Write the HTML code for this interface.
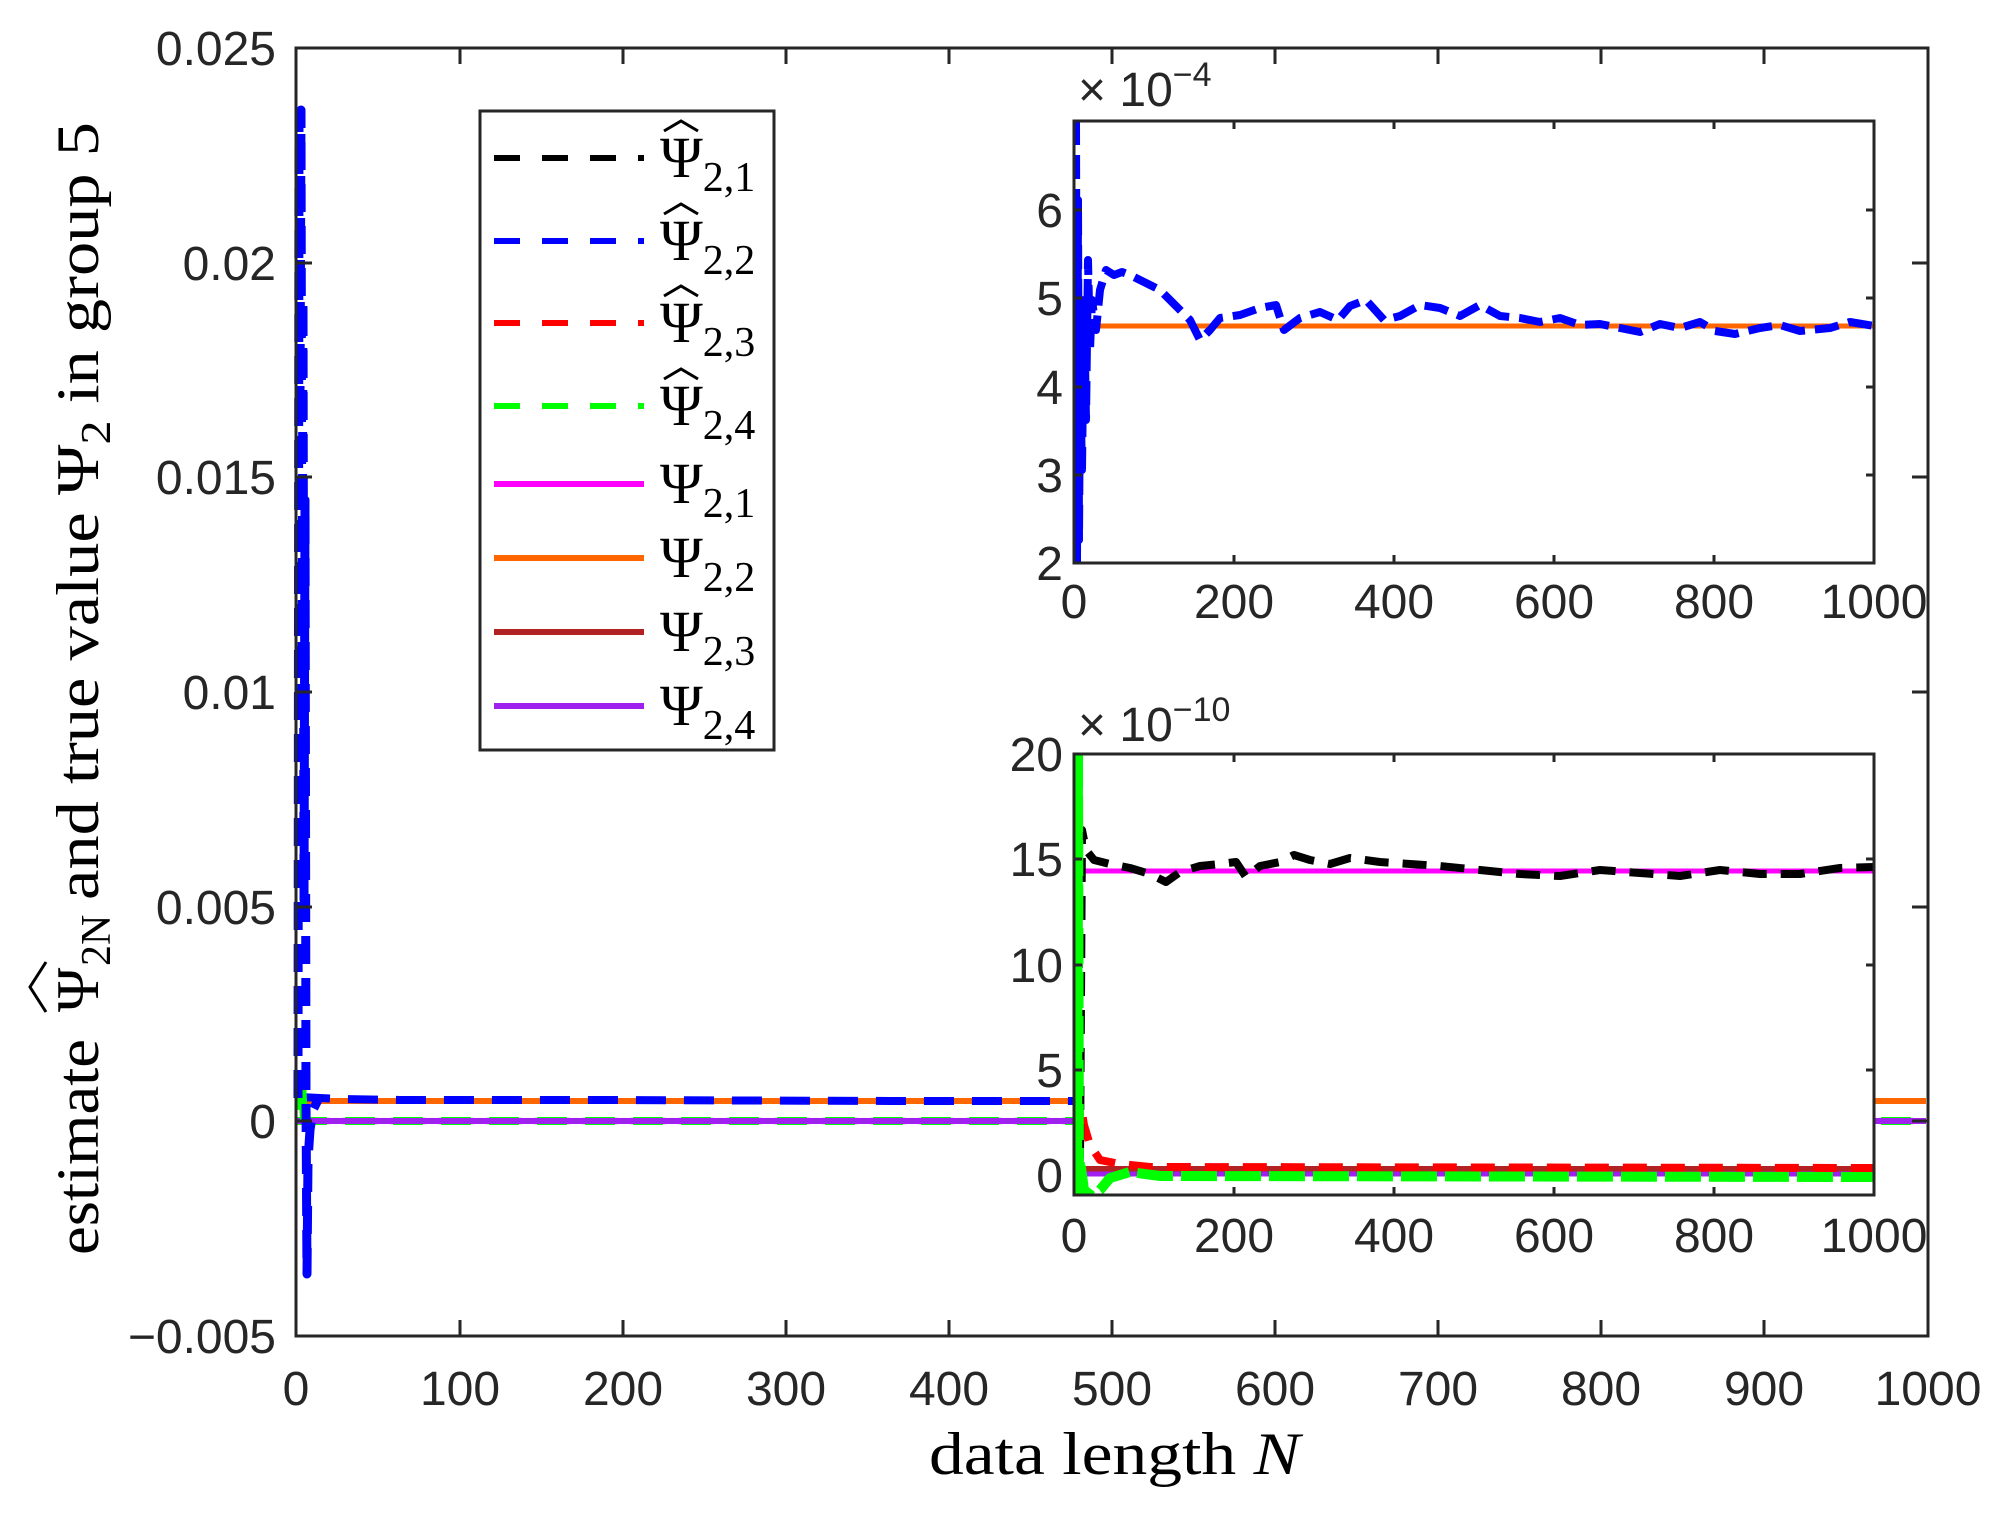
<!DOCTYPE html>
<html><head><meta charset="utf-8"><style>
body{margin:0;background:#fff}
svg{display:block}
.t{font-family:"Liberation Sans",sans-serif;font-size:48px;fill:#262626}
.s{font-family:"Liberation Serif","DejaVu Serif",serif;fill:#000}
</style></head><body>
<svg width="2011" height="1520" viewBox="0 0 2011 1520" xmlns="http://www.w3.org/2000/svg">
<rect width="2011" height="1520" fill="#fff"/>
<g fill="none" stroke-linejoin="round">
<line x1="297" y1="1101" x2="1926" y2="1101" stroke="#FF6600" stroke-width="6"/>
<polyline points="300,1097 340,1099 400,1100 600,1100 900,1101 1100,1101" stroke="#0000FF" stroke-width="8" stroke-dasharray="30,18"/>
<line x1="297" y1="1121" x2="1926" y2="1121" stroke="#00FF00" stroke-width="8" stroke-dasharray="30,18"/>
<line x1="297" y1="1121" x2="1926" y2="1121" stroke="#A020F0" stroke-width="6"/>
<polyline points="300,1110 302,1082 304,1121" stroke="#00FF00" stroke-width="8"/>
<polyline points="298,1098 299,112 300,400 301,110 302,700 303,300 304,900 305,500 306,1100 307,1274 308,1160 310,1130 313,1110 318,1100" stroke="#0000FF" stroke-width="9" stroke-dasharray="28,14"/>
</g>
<rect x="296" y="48" width="1632" height="1288" fill="none" stroke="#262626" stroke-width="3"/>
<g stroke="#262626" stroke-width="3">
<path d="M460,1336v-16M623,1336v-16M786,1336v-16M949,1336v-16M1112,1336v-16M1275,1336v-16M1438,1336v-16M1601,1336v-16M1764,1336v-16
M460,48v16M623,48v16M786,48v16M949,48v16M1112,48v16M1275,48v16M1438,48v16M1601,48v16M1764,48v16
M296,263h16M296,477h16M296,692h16M296,907h16M296,1121h16
M1928,263h-16M1928,477h-16M1928,692h-16M1928,907h-16M1928,1121h-16"/>
</g>
<g class="t" text-anchor="end">
<text x="276" y="65">0.025</text><text x="276" y="280">0.02</text><text x="276" y="494">0.015</text>
<text x="276" y="709">0.01</text><text x="276" y="924">0.005</text><text x="276" y="1138">0</text><text x="276" y="1353">−0.005</text>
</g>
<g class="t" text-anchor="middle">
<text x="296" y="1405">0</text><text x="460" y="1405">100</text><text x="623" y="1405">200</text><text x="786" y="1405">300</text><text x="949" y="1405">400</text><text x="1112" y="1405">500</text><text x="1275" y="1405">600</text><text x="1438" y="1405">700</text><text x="1601" y="1405">800</text><text x="1764" y="1405">900</text><text x="1928" y="1405">1000</text>
</g>
<text class="s" x="929" y="1474" font-size="60" textLength="371" lengthAdjust="spacingAndGlyphs">data length <tspan font-style="italic">N</tspan></text>
<g transform="translate(98,0) rotate(-90)">
<text class="s" x="-1255" y="0" font-size="60" textLength="216" lengthAdjust="spacingAndGlyphs">estimate</text>
<text class="s" x="-1012" y="0" font-size="60">Ψ</text>
<text class="s" x="-966" y="12" font-size="42">2N</text>
<text class="s" x="-900" y="0" font-size="60" textLength="778" lengthAdjust="spacingAndGlyphs">and true value Ψ<tspan font-size="42" dy="12">2</tspan><tspan dy="-12"> in group 5</tspan></text>
<path d="M-1012,-52 L-987,-68 L-962,-52" fill="none" stroke="#000" stroke-width="3"/>
</g>

<rect x="480" y="111" width="294" height="639" fill="#fff" stroke="#262626" stroke-width="3"/>
<g stroke-width="6">
<line x1="494" y1="158" x2="644" y2="158" stroke="#000" stroke-dasharray="26,22"/>
<line x1="494" y1="241" x2="644" y2="241" stroke="#0000FF" stroke-dasharray="26,22"/>
<line x1="494" y1="323" x2="644" y2="323" stroke="#FF0000" stroke-dasharray="26,22"/>
<line x1="494" y1="406" x2="644" y2="406" stroke="#00FF00" stroke-dasharray="26,22"/>
<line x1="494" y1="484" x2="644" y2="484" stroke="#FF00FF"/>
<line x1="494" y1="558" x2="644" y2="558" stroke="#FF6600"/>
<line x1="494" y1="632" x2="644" y2="632" stroke="#B22222"/>
<line x1="494" y1="706" x2="644" y2="706" stroke="#A020F0"/>
</g>
<g class="s" font-size="58">
<text x="660" y="177">Ψ<tspan font-size="42" dy="14">2,1</tspan></text>
<text x="660" y="260">Ψ<tspan font-size="42" dy="14">2,2</tspan></text>
<text x="660" y="342">Ψ<tspan font-size="42" dy="14">2,3</tspan></text>
<text x="660" y="425">Ψ<tspan font-size="42" dy="14">2,4</tspan></text>
<text x="660" y="503">Ψ<tspan font-size="42" dy="14">2,1</tspan></text>
<text x="660" y="577">Ψ<tspan font-size="42" dy="14">2,2</tspan></text>
<text x="660" y="651">Ψ<tspan font-size="42" dy="14">2,3</tspan></text>
<text x="660" y="725">Ψ<tspan font-size="42" dy="14">2,4</tspan></text>
</g>
<g fill="none" stroke="#000" stroke-width="3">
<path d="M664,131 l17,-10 l17,10"/><path d="M664,214 l17,-10 l17,10"/><path d="M664,296 l17,-10 l17,10"/><path d="M664,379 l17,-10 l17,10"/>
</g>

<rect x="1074" y="121" width="800" height="442" fill="#fff"/>
<svg x="1074" y="121" width="800" height="442" viewBox="1074 121 800 442" overflow="hidden">
<line x1="1074" y1="326" x2="1874" y2="326" stroke="#FF6600" stroke-width="5"/>
<polyline fill="none" stroke="#0000FF" stroke-width="8" stroke-dasharray="24,10" stroke-linejoin="round"
points="1076,121 1077,563 1078,200 1079,540 1080,380 1082,470 1084,300 1086,420 1088,260 1090,350 1092,300 1096,330 1100,290 1106,270 1114,275 1122,272 1130,275 1140,280 1150,285 1160,290 1170,300 1180,310 1190,320 1200,340 1210,330 1220,318 1240,315 1260,308 1276,305 1284,330 1300,318 1320,312 1338,320 1350,306 1366,300 1384,320 1400,316 1420,305 1440,308 1460,316 1480,305 1500,316 1520,318 1540,322 1560,318 1580,325 1600,324 1620,328 1640,332 1660,324 1680,328 1700,322 1715,331 1735,334 1760,328 1780,325 1800,331 1830,328 1850,322 1874,326"/>
</svg>
<rect x="1074" y="121" width="800" height="442" fill="none" stroke="#262626" stroke-width="3"/>
<g stroke="#262626" stroke-width="3">
<path d="M1234,563v-8M1394,563v-8M1554,563v-8M1714,563v-8M1234,121v8M1394,121v8M1554,121v8M1714,121v8
M1074,475h8M1074,387h8M1074,298h8M1074,210h8M1874,475h-8M1874,387h-8M1874,298h-8M1874,210h-8"/>
</g>
<g class="t" text-anchor="end">
<text x="1063" y="227">6</text><text x="1063" y="315">5</text><text x="1063" y="404">4</text><text x="1063" y="492">3</text><text x="1063" y="580">2</text>
</g>
<g class="t" text-anchor="middle">
<text x="1074" y="618">0</text><text x="1234" y="618">200</text><text x="1394" y="618">400</text><text x="1554" y="618">600</text><text x="1714" y="618">800</text><text x="1874" y="618">1000</text>
</g>
<text class="t" x="1078" y="106">× 10<tspan font-size="34" dy="-20">−4</tspan></text>

<rect x="1074" y="754" width="800" height="441" fill="#fff"/>
<svg x="1074" y="754" width="800" height="441" viewBox="1074 754 800 441" overflow="hidden">
<g fill="none" stroke-linejoin="round">
<line x1="1074" y1="871" x2="1874" y2="871" stroke="#FF00FF" stroke-width="5"/>
<line x1="1074" y1="1169" x2="1874" y2="1169" stroke="#B22222" stroke-width="6"/>
<line x1="1074" y1="1174" x2="1874" y2="1174" stroke="#A020F0" stroke-width="5"/>
<polyline stroke="#FF0000" stroke-width="8" stroke-dasharray="24,14" points="1076,1080 1080,1100 1084,1125 1090,1145 1100,1160 1120,1164 1150,1167 1874,1168"/>
<polyline stroke="#000" stroke-width="8" stroke-dasharray="24,14" points="1077,754 1078,800 1079,1000 1080,1160 1081,1000 1082,830 1086,850 1094,860 1110,864 1130,868 1150,874 1166,882 1180,872 1200,866 1220,864 1236,862 1246,877 1260,866 1280,862 1294,855 1310,860 1330,864 1350,858 1380,862 1410,864 1440,866 1480,870 1520,874 1560,876 1600,870 1640,873 1680,876 1720,870 1760,874 1800,874 1840,868 1874,867"/>
<polyline stroke="#00FF00" stroke-width="10" stroke-dasharray="36,8" points="1076,754 1077,1195 1078,754 1079,1195 1080,1160 1084,1190 1092,1196 1100,1190 1110,1178 1130,1172 1160,1176 1874,1177"/>
</g>
</svg>
<rect x="1074" y="754" width="800" height="441" fill="none" stroke="#262626" stroke-width="3"/>
<g stroke="#262626" stroke-width="3">
<path d="M1234,1195v-8M1394,1195v-8M1554,1195v-8M1714,1195v-8M1234,754v8M1394,754v8M1554,754v8M1714,754v8
M1074,1070h8M1074,965h8M1074,859h8M1874,1070h-8M1874,965h-8M1874,859h-8"/>
</g>
<g class="t" text-anchor="end">
<text x="1063" y="771">20</text><text x="1063" y="876">15</text><text x="1063" y="982">10</text><text x="1063" y="1087">5</text><text x="1063" y="1192">0</text>
</g>
<g class="t" text-anchor="middle">
<text x="1074" y="1252">0</text><text x="1234" y="1252">200</text><text x="1394" y="1252">400</text><text x="1554" y="1252">600</text><text x="1714" y="1252">800</text><text x="1874" y="1252">1000</text>
</g>
<text class="t" x="1078" y="741">× 10<tspan font-size="34" dy="-20">−10</tspan></text>
</svg>
</body></html>
